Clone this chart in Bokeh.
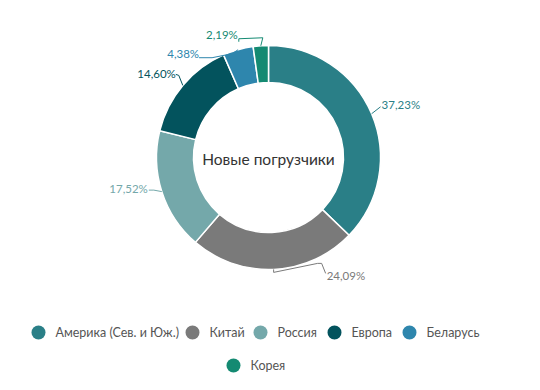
import math
from bokeh.plotting import figure
from bokeh.models import Range1d
from bokeh.core.properties import value
from bokeh.embed import file_html
from bokeh.resources import INLINE

# ---- data ----
categories = ["Америка (Сев. и Юж.)", "Китай", "Россия", "Европа", "Беларусь", "Корея"]
shares = [37.23, 24.09, 17.52, 14.60, 4.38, 2.19]
labels = ["37,23%", "24,09%", "17,52%", "14,60%", "4,38%", "2,19%"]
colors = ["#2a7f87", "#7a7a7a", "#74a8aa", "#03535d", "#2e86ad", "#148a72"]
title_text = "Новые погрузчики"

# ---- layout (screen pixels of the 540x390 picture) ----
H = 390
CX, CY = 268, 157
R_OUT, R_IN = 112, 75
FONT = "Lato"

def Y(py):
    return H - py

p = figure(width=524, height=374, output_backend="svg", toolbar_location=None,
           x_range=Range1d(0, 524), y_range=Range1d(16, 390), min_border=0)
p.axis.visible = False
p.grid.visible = False
p.outline_line_color = None
p.background_fill_color = "white"
p.border_fill_color = "white"

total = sum(shares)
starts, ends, mids = [], [], []
cum = 0.0
for s in shares:
    a0 = math.pi / 2 - 2 * math.pi * cum / total
    cum += s
    a1 = math.pi / 2 - 2 * math.pi * cum / total
    starts.append(a0)
    ends.append(a1)
    mids.append((a0 + a1) / 2)

p.annular_wedge(x=CX, y=Y(CY), inner_radius=R_IN, outer_radius=R_OUT,
                start_angle=starts, end_angle=ends, direction="clock",
                fill_color=colors, line_color="white", line_width=1.5)

# label connectors: offsets (screen px) relative to the slice's outer mid point
conn_offsets = [
    [(0, 0), (9, -7)],
    [(0, 0), (0, 3), (44, -6), (48, -6), (52, 4)],
    [(0, 0), (-8, -1.5), (-13, -1.5)],
    [(0, 0), (-4, -10), (-7, -11)],
    [(0, 0), (-6, 4), (-26, 8), (-39, 8)],
    [(0, 0), (2, -8), (-22, -7), (-22, -4)],
]
text_offsets = [(10, -9), (53, 6), (-14, -3), (-7, -12), (-39, 4), (-23, -11)]
aligns = ["left", "left", "right", "right", "right", "right"]

xs_c, ys_c = [], []
tx, ty = [], []
for m, co, to in zip(mids, conn_offsets, text_offsets):
    ax = CX + R_OUT * math.cos(m)
    ay = CY - R_OUT * math.sin(m)
    xs_c.append([ax + dx for dx, dy in co])
    ys_c.append([Y(ay + dy) for dx, dy in co])
    tx.append(ax + to[0])
    ty.append(Y(ay + to[1]))

p.multi_line(xs=xs_c, ys=ys_c, line_color=colors, line_width=1)
for i in range(len(labels)):
    p.text(x=[tx[i]], y=[ty[i]], text=[labels[i]], text_align=aligns[i],
           text_baseline="middle", text_font=value(FONT), text_font_size="11.5px",
           text_color=colors[i])

# center title
p.text(x=[CX], y=[Y(CY + 1)], text=[title_text], text_align="center",
       text_baseline="middle", text_font=value(FONT), text_font_size="15.5px",
       text_color="#333333")

# legend (manual)
leg_x = [38, 192, 260, 334, 409, 233]
leg_y = [332, 332, 332, 332, 332, 365]
p.scatter(x=leg_x, y=[Y(v) for v in leg_y], size=14, marker="circle",
          fill_color=colors, line_color=None)
p.text(x=[v + 17 for v in leg_x], y=[Y(v) for v in leg_y], text=categories,
       text_align="left", text_baseline="middle", text_font=value(FONT),
       text_font_size="12.5px", text_color="#555555")

open("out.html", "w").write(file_html(p, INLINE))
